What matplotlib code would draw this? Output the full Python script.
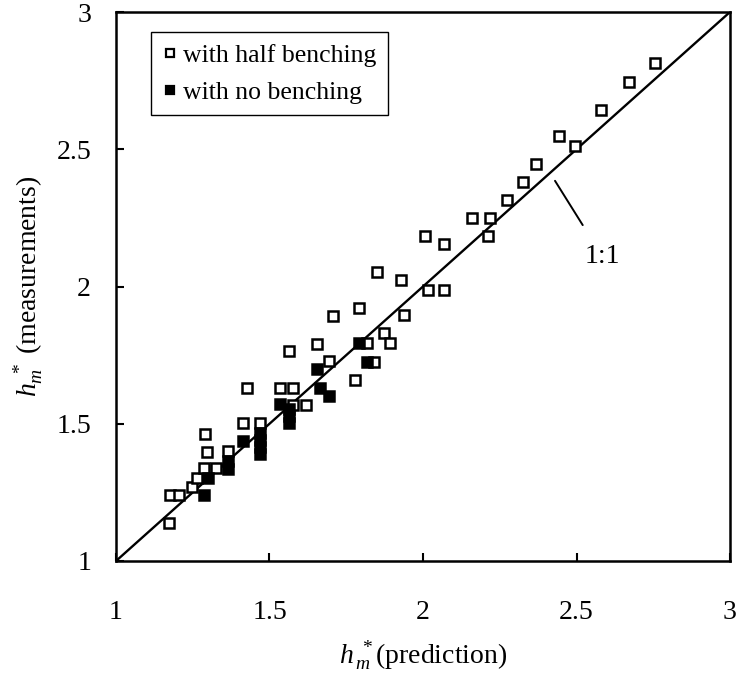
import matplotlib
matplotlib.use("Agg")
import matplotlib.pyplot as plt
from matplotlib.lines import Line2D

plt.rcParams["font.family"] = ["Liberation Serif", "DejaVu Serif"]
plt.rcParams["mathtext.fontset"] = "custom"
plt.rcParams["mathtext.rm"] = "Liberation Serif"
plt.rcParams["mathtext.it"] = "Liberation Serif:italic"

# Measured vs. predicted h_m* with half benching (open squares)
half_pred = [1.172, 1.175, 1.205, 1.246, 1.265, 1.287, 1.325, 1.298, 1.291, 1.365,
             1.415, 1.468, 1.428, 1.533, 1.576, 1.578, 1.619, 1.563, 1.655, 1.693,
             1.706, 1.777, 1.790, 1.818, 1.840, 1.874, 1.894, 1.850, 1.929, 1.938,
             2.016, 2.068, 2.005, 2.068, 2.158, 2.218, 2.211, 2.275, 2.327, 2.367,
             2.443, 2.494, 2.579, 2.672, 2.755]
half_meas = [1.138, 1.241, 1.241, 1.268, 1.304, 1.337, 1.337, 1.397, 1.464, 1.401,
             1.504, 1.504, 1.632, 1.632, 1.632, 1.567, 1.567, 1.765, 1.792, 1.728,
             1.892, 1.659, 1.922, 1.793, 1.726, 1.829, 1.793, 2.053, 2.025, 1.895,
             1.989, 1.989, 2.185, 2.156, 2.250, 2.250, 2.183, 2.314, 2.379, 2.447,
             2.549, 2.513, 2.644, 2.744, 2.813]

# Measured vs. predicted h_m* with no benching (filled squares)
none_pred = [1.287, 1.300, 1.365, 1.365, 1.415, 1.468, 1.468, 1.468, 1.468, 1.533,
             1.565, 1.565, 1.565, 1.666, 1.693, 1.655, 1.790, 1.816]
none_meas = [1.241, 1.304, 1.335, 1.365, 1.437, 1.465, 1.440, 1.415, 1.390, 1.571,
             1.553, 1.528, 1.504, 1.632, 1.601, 1.698, 1.793, 1.726]

axis_min, axis_max = 1.0, 3.0
ticks = [1, 1.5, 2, 2.5, 3]
tick_labels = ["1", "1.5", "2", "2.5", "3"]

fig = plt.figure(figsize=(7.4, 6.76), dpi=100)
ax = fig.add_axes([116 / 740, 1 - 561 / 676, 614 / 740, 549 / 676])

# 1:1 reference line
ax.plot([axis_min, axis_max], [axis_min, axis_max], color="black", lw=1.7, zorder=1)

ms, mew = 6.8, 1.8
ax.plot(half_pred, half_meas, linestyle="none", marker="s", markersize=ms,
        markerfacecolor="white", markeredgecolor="black", markeredgewidth=mew, zorder=3)
ax.plot(none_pred, none_meas, linestyle="none", marker="s", markersize=ms,
        markerfacecolor="black", markeredgecolor="black", markeredgewidth=mew, zorder=3)

ax.set_xlim(axis_min, axis_max)
ax.set_ylim(axis_min, axis_max)
ax.set_xticks(ticks)
ax.set_xticklabels(tick_labels)
ax.set_yticks(ticks)
ax.set_yticklabels(tick_labels)
ax.tick_params(axis="x", direction="in", length=6, width=1.5, labelsize=20, pad=28,
               top=False)
ax.tick_params(axis="y", direction="in", length=6, width=1.5, labelsize=20, pad=18,
               right=False)
for sp in ax.spines.values():
    sp.set_linewidth(1.8)

ax.set_xlabel(r"$h_{\,m}^{\ *}$(prediction)", fontsize=20, labelpad=10)
ax.set_ylabel(r"$h_m^{\ *}$ (measurements)", fontsize=20, labelpad=8)

# 1:1 annotation
ax.annotate("1:1", xy=(2.43, 2.385), xytext=(2.585, 2.108), fontsize=20,
            ha="center", va="center",
            arrowprops=dict(arrowstyle="-", color="black", lw=1.4,
                            shrinkA=14, shrinkB=0))

handles = [
    Line2D([], [], linestyle="none", marker="s", markersize=5.5,
           markerfacecolor="white", markeredgecolor="black", markeredgewidth=1.6),
    Line2D([], [], linestyle="none", marker="s", markersize=5.5,
           markerfacecolor="black", markeredgecolor="black", markeredgewidth=1.6),
]
leg = ax.legend(handles, ["with half benching", "with no benching"],
                loc="upper left", bbox_to_anchor=((151 - 116) / 614, (561 - 32) / 549),
                fontsize=18.5, frameon=True, fancybox=False, framealpha=1,
                edgecolor="black", handlelength=0.6, handletextpad=0.2,
                borderpad=0.45, labelspacing=0.55, borderaxespad=0)
leg.get_frame().set_linewidth(1.0)

fig.savefig("out.png", dpi=100)
